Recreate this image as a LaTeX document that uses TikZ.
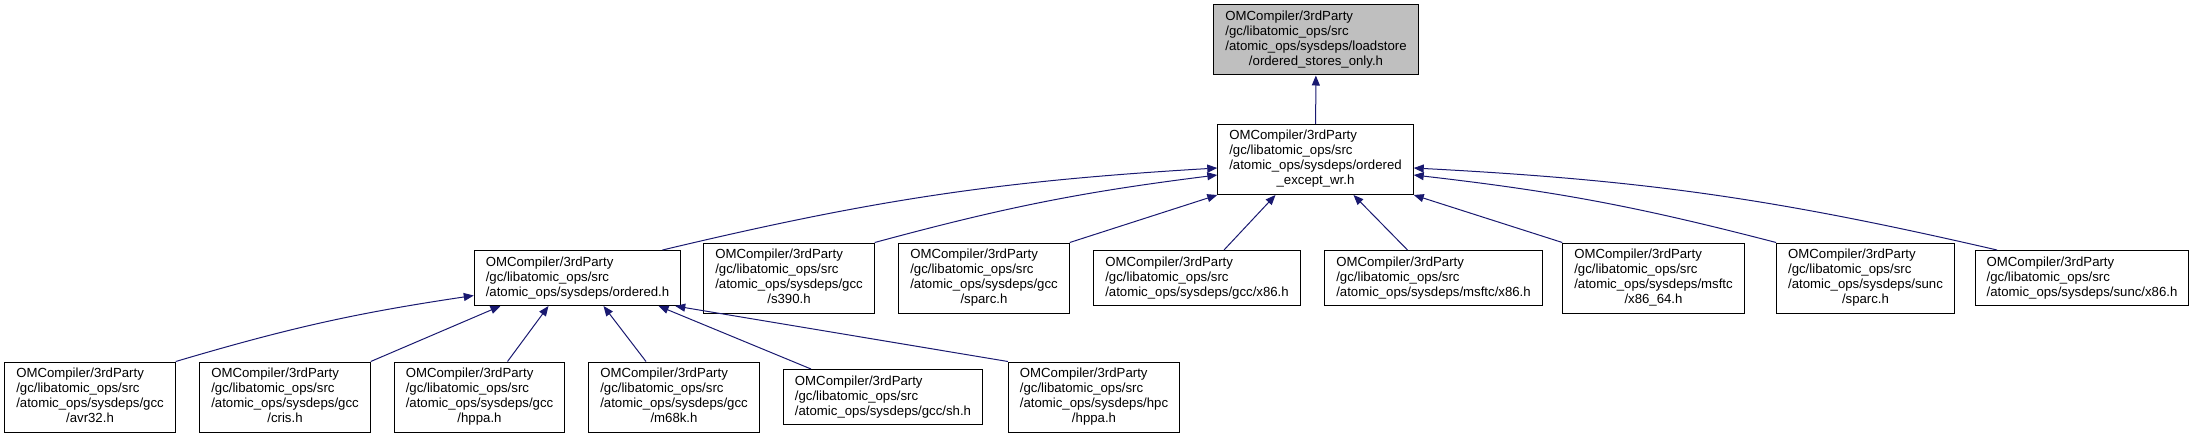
\documentclass[tikz,border=0pt]{standalone}
\usepackage{fontspec}
\setmainfont{Liberation Sans}
\usepackage{tikz}
\usetikzlibrary{arrows.meta}
\usepackage{xcolor}
\definecolor{navy}{HTML}{191970}
\definecolor{rootgray}{HTML}{BFBFBF}
\newcommand{\pfour}[2]{\begin{tabular}{@{}l@{}}OMCompiler/3rdParty\\/gc/libatomic\_ops/src\\#1\\\multicolumn{1}{@{}c@{}}{#2}\end{tabular}}
\newcommand{\pthree}[1]{\begin{tabular}{@{}l@{}}OMCompiler/3rdParty\\/gc/libatomic\_ops/src\\#1\end{tabular}}
\tikzset{
  fnode/.style={rectangle,draw=black,fill=white,line width=1pt,
    inner xsep=11.5pt,inner ysep=5pt,font=\fontsize{13.2}{15}\selectfont},
  rnode/.style={fnode,fill=rootgray},
  dedge/.style={-{Triangle[length=10pt,width=8pt]},line width=1pt,color=navy},
}

\begin{document}
\begin{tikzpicture}[x=1pt,y=1pt]
  \useasboundingbox (0,0) rectangle (2199,437);
  \node[rnode] (root) at (1316,397){\pfour{/atomic\_ops/sysdeps/loadstore}{/ordered\_stores\_only.h}};
  \node[fnode] (excp) at (1315.5,277.5){\pfour{/atomic\_ops/sysdeps/ordered}{\_except\_wr.h}};
  \node[fnode] (ordh) at (577.5,159){\pthree{/atomic\_ops/sysdeps/ordered.h}};
  \node[fnode] (s390) at (789,159){\pfour{/atomic\_ops/sysdeps/gcc}{/s390.h}};
  \node[fnode] (gsparc) at (984,159){\pfour{/atomic\_ops/sysdeps/gcc}{/sparc.h}};
  \node[fnode] (gx86) at (1197,159){\pthree{/atomic\_ops/sysdeps/gcc/x86.h}};
  \node[fnode] (mx86) at (1433.5,159){\pthree{/atomic\_ops/sysdeps/msftc/x86.h}};
  \node[fnode] (mx64) at (1653.5,159){\pfour{/atomic\_ops/sysdeps/msftc}{/x86\_64.h}};
  \node[fnode] (ssparc) at (1865.5,159){\pfour{/atomic\_ops/sysdeps/sunc}{/sparc.h}};
  \node[fnode] (sx86) at (2082,159){\pthree{/atomic\_ops/sysdeps/sunc/x86.h}};
  \node[fnode] (avr) at (90,40){\pfour{/atomic\_ops/sysdeps/gcc}{/avr32.h}};
  \node[fnode] (cris) at (285,40){\pfour{/atomic\_ops/sysdeps/gcc}{/cris.h}};
  \node[fnode] (ghppa) at (479.5,40){\pfour{/atomic\_ops/sysdeps/gcc}{/hppa.h}};
  \node[fnode] (m68k) at (674,40){\pfour{/atomic\_ops/sysdeps/gcc}{/m68k.h}};
  \node[fnode] (gsh) at (883,40){\pthree{/atomic\_ops/sysdeps/gcc/sh.h}};
  \node[fnode] (hhppa) at (1094,40){\pfour{/atomic\_ops/sysdeps/hpc}{/hppa.h}};
  \draw[dedge] (excp)--(root);
  \draw[dedge] ([xshift=85pt]ordh.north) to[bend left=5] ([yshift=-8.5pt]excp.west);
  \draw[dedge] (s390.north east) to[bend left=4] ([yshift=-15.5pt]excp.west);
  \draw[dedge] (gsparc.north east)--(excp.south west);
  \draw[dedge] ([xshift=27pt]gx86.north)--([xshift=-40pt]excp.south);
  \draw[dedge] ([xshift=-26pt]mx86.north)--([xshift=38pt]excp.south);
  \draw[dedge] (mx64.north west)--(excp.south east);
  \draw[dedge] (ssparc.north west) to[bend right=4] ([yshift=-15.5pt]excp.east);
  \draw[dedge] ([xshift=-85pt]sx86.north) to[bend right=5] ([yshift=-8.5pt]excp.east);
  \draw[dedge] (avr.north east) to[bend left=4] ([yshift=-17.5pt]ordh.west);
  \draw[dedge] (cris.north east)--([xshift=-77pt]ordh.south);
  \draw[dedge] ([xshift=28pt]ghppa.north)--([xshift=-29pt]ordh.south);
  \draw[dedge] ([xshift=-28pt]m68k.north)--([xshift=26pt]ordh.south);
  \draw[dedge] ([xshift=-72pt]gsh.north)--([xshift=81pt]ordh.south);
  \draw[dedge] (hhppa.north west)--([xshift=-6pt]ordh.south east);
\end{tikzpicture}
\end{document}
